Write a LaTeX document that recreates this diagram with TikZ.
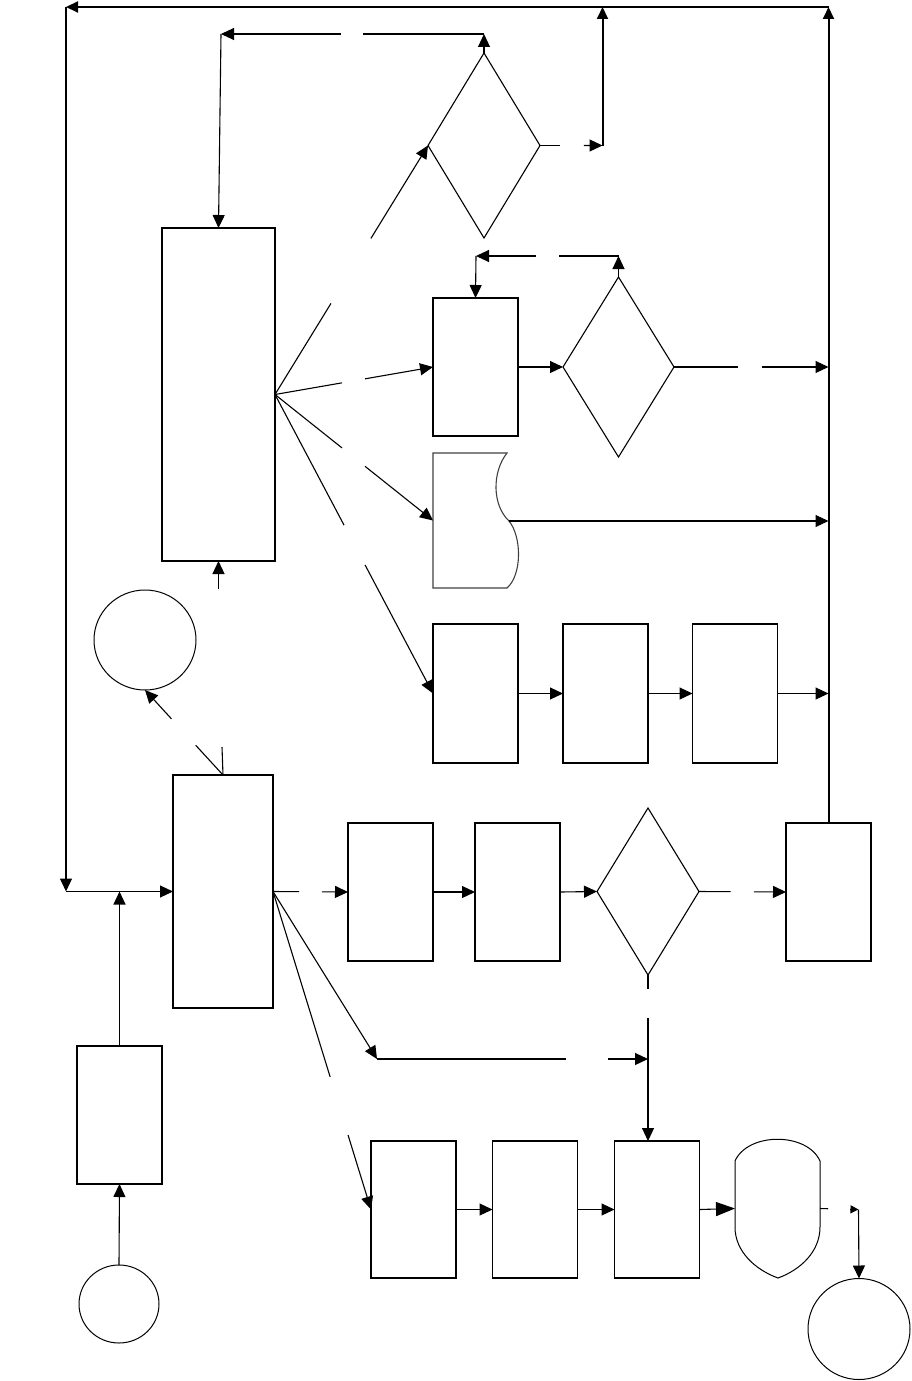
\documentclass[tikz,border=0pt]{standalone}
\usetikzlibrary{arrows.meta,shapes.geometric,calc}
\begin{document}
\begin{tikzpicture}[x=1pt,y=-1pt,
  blk/.style={draw, line width=1.2pt, inner sep=0pt, outer sep=0pt},
  ghost/.style={inner sep=0pt, outer sep=0pt},
  dia/.style={draw, diamond, line width=1.1pt, inner sep=0pt, outer sep=0pt},
  term/.style={draw, ellipse, line width=1pt, inner sep=0pt, outer sep=0pt},
  ln/.style={line width=1.1pt},
  heavy/.style={line width=2pt},
  arr/.style={line width=1.1pt, -{Triangle[length=13pt,width=12pt]}},
  bigarr/.style={line width=1.1pt, -{Triangle[length=19pt,width=14pt]}},
  smallarr/.style={line width=1.1pt, -{Triangle[length=8pt,width=8pt]}}]
\useasboundingbox (0,0) rectangle (911,1381);

% ---------- nodes ----------
\node[blk, minimum width=113pt, minimum height=333pt] (B1) at (218.5,394.5) {};
\node[blk, minimum width=100pt, minimum height=233pt] (B2) at (223,891.5) {};
\node[blk, minimum width=85pt, minimum height=138pt] (R1) at (475.5,367) {};
\node[ghost, minimum width=85pt, minimum height=135pt] (Doc) at (475.5,520.5) {};
\node[blk, minimum width=85pt, minimum height=139pt] (R4) at (475.5,693.5) {};
\node[blk, minimum width=85pt, minimum height=139pt] (R5) at (605.5,693.5) {};
\node[blk, minimum width=85pt, minimum height=139pt] (R6) at (735,693.5) {};
\node[blk, minimum width=85pt, minimum height=138pt] (M1) at (390.5,892) {};
\node[blk, minimum width=85pt, minimum height=138pt] (M2) at (517.5,892) {};
\node[blk, minimum width=85pt, minimum height=138pt] (M4) at (828.5,892) {};
\node[blk, minimum width=85pt, minimum height=137pt] (N1) at (413.5,1209.5) {};
\node[blk, minimum width=85pt, minimum height=137pt] (N2) at (535,1209.5) {};
\node[blk, minimum width=85pt, minimum height=137pt] (N3) at (657,1209.5) {};
\node[ghost, minimum width=85pt, minimum height=139pt] (N4) at (777.5,1208.5) {};
\node[blk, minimum width=85pt, minimum height=138pt] (L) at (119.5,1115) {};
\node[dia, minimum width=112pt, minimum height=185pt] (D1) at (484,145.5) {};
\node[dia, minimum width=111pt, minimum height=180pt] (D2) at (618.5,367) {};
\node[dia, minimum width=102pt, minimum height=167pt] (D3) at (648,891.5) {};
\node[term, minimum width=102pt, minimum height=100pt] (C1) at (145,640) {};
\node[term, minimum width=80pt, minimum height=78pt] (E1) at (119,1304) {};
\node[term, minimum width=102pt, minimum height=101pt] (C3) at (859,1329) {};

% document shape (wavy right side)
\draw[line width=1.1pt, draw=black!75] (433,453) -- (507,453)
  .. controls (492,472) and (492,505) .. (509,521)
  .. controls (522,537) and (522,575) .. (507,588) -- (433,588) -- cycle;
% display shape
\draw[line width=1pt] (735,1161) .. controls (748,1132) and (807,1132) .. (820,1161)
  -- (820,1227) .. controls (820,1252) and (800,1270) .. (778,1278)
  .. controls (756,1270) and (735,1252) .. (735,1227) -- cycle;

% ---------- coordinates ----------
\coordinate (TR) at (828.5,7);
\coordinate (TL) at (66,7);
\coordinate (LB) at (66,891.5);
\coordinate (D1up) at (484,34);
\coordinate (B1corner) at (221,34);
\coordinate (V6) at (602.5,145.5);
\coordinate (V6top) at (602.5,7);
\coordinate (D2up) at (618.5,256);
\coordinate (R1corner) at (476,256);
\coordinate (RV1) at (828.5,367);
\coordinate (DocOut) at (509,521);
\coordinate (RV2) at (828.5,521);
\coordinate (RV3) at (828.5,693.5);
\coordinate (c1) at (377,1059);
\coordinate (c2) at (648,1059);
\coordinate (T1) at (858.5,1209.5);
\coordinate (B2tick) at (222,747);
\coordinate (B1in) at (218.5,589);

% ---------- outer loop ----------
\draw[heavy, -{Triangle[length=12pt,width=11pt]}] (M4.north) -- (TR);
\draw[heavy, -{Triangle[length=12pt,width=11pt]}] (TR) -- (TL);
\draw[arr] (TL) -- (LB);
\draw[arr] (LB) -- (B2.west);
\draw[arr] (L.north) -- (L.north |- LB);
\draw[arr] (E1.north) -- (L.south);

% ---------- D1 ----------
\draw[arr] (D1.north) -- (D1up);
\draw[ln] (D1up) -- ($(D1up)!0.46!(B1corner)$);
\draw[arr] ($(D1up)!0.544!(B1corner)$) -- (B1corner);
\draw[arr] (B1corner) -- (B1.north);
\draw[ln] (D1.east) -- ($(D1.east)!0.32!(V6)$);
\draw[arr] ($(D1.east)!0.70!(V6)$) -- (V6);
\draw[heavy, -{Triangle[length=12pt,width=11pt]}] (V6) -- (V6top);

% ---------- fan from B1 ----------
\draw[ln] (B1.east) -- ($(B1.east)!0.366!(D1.west)$);
\draw[arr] ($(B1.east)!0.627!(D1.west)$) -- (D1.west);
\draw[ln] (B1.east) -- ($(B1.east)!0.424!(R1.west)$);
\draw[arr] ($(B1.east)!0.57!(R1.west)$) -- (R1.west);
\draw[ln] (B1.east) -- ($(B1.east)!0.424!(Doc.west)$);
\draw[arr] ($(B1.east)!0.57!(Doc.west)$) -- (Doc.west);
\draw[ln] (B1.east) -- ($(B1.east)!0.437!(R4.west)$);
\draw[arr] ($(B1.east)!0.57!(R4.west)$) -- (R4.west);
\draw[arr] (B1in) -- (B1.south);

% ---------- R1 / D2 ----------
\draw[arr] (R1.east) -- (D2.west);
\draw[arr] (D2.north) -- (D2up);
\draw[ln] (D2up) -- ($(D2up)!0.418!(R1corner)$);
\draw[arr] ($(D2up)!0.579!(R1corner)$) -- (R1corner);
\draw[arr] (R1corner) -- (R1.north);
\draw[ln] (D2.east) -- ($(D2.east)!0.414!(RV1)$);
\draw[arr] ($(D2.east)!0.57!(RV1)$) -- (RV1);

% ---------- document ----------
\draw[arr] (DocOut) -- (RV2);

% ---------- R4-R6 ----------
\draw[arr] (R4.east) -- (R5.west);
\draw[arr] (R5.east) -- (R6.west);
\draw[arr] (R6.east) -- (RV3);

% ---------- lower main row ----------
\draw[ln] (B2.east) -- ($(B2.east)!0.347!(M1.west)$);
\draw[arr] ($(B2.east)!0.653!(M1.west)$) -- (M1.west);
\draw[arr] (M1.east) -- (M2.west);
\draw[arr] (M2.east) -- (D3.west);
\draw[ln] (D3.east) -- ($(D3.east)!0.362!(M4.west)$);
\draw[arr] ($(D3.east)!0.632!(M4.west)$) -- (M4.west);
\draw[ln] (D3.south) -- ($(D3.south)!0.084!(D3.south |- N3.north)$);
\draw[arr] ($(D3.south)!0.259!(D3.south |- N3.north)$) -- (D3.south |- N3.north);

% ---------- branch to c1 ----------
\draw[arr] (B2.east) -- (c1);
\draw[ln] (c1) -- ($(c1)!0.697!(c2)$);
\draw[arr] ($(c1)!0.852!(c2)$) -- (c2);

% ---------- branch to bottom row ----------
\draw[ln] (B2.east) -- ($(B2.east)!0.583!(N1.west)$);
\draw[arr] ($(B2.east)!0.766!(N1.west)$) -- (N1.west);
\draw[arr] (N1.east) -- (N2.west);
\draw[arr] (N2.east) -- (N3.west);
\draw[bigarr] (N3.east) -- (N4.west);
\draw[ln] (N4.east) -- ($(N4.east)!0.21!(T1)$);
\draw[smallarr] ($(N4.east)!0.78!(T1)$) -- (T1);
\draw[arr] (T1) -- (C3.north);

% ---------- B2 to C1 ----------
\draw[ln] (B2tick) -- (B2.north);
\draw[ln] (B2.north) -- ($(B2.north)!0.35!(C1.south)$);
\draw[arr] ($(B2.north)!0.66!(C1.south)$) -- (C1.south);
\end{tikzpicture}
\end{document}
